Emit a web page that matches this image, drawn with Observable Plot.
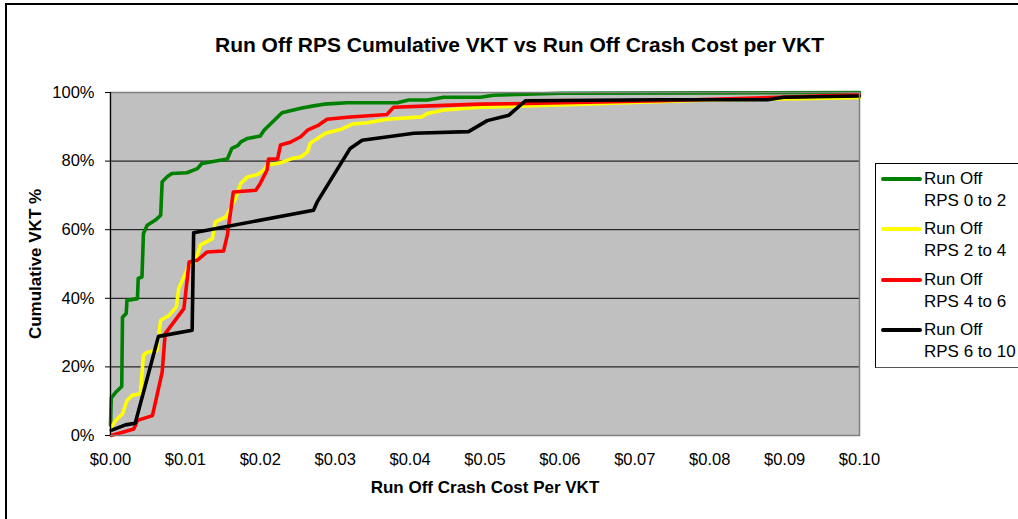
<!DOCTYPE html>
<html>
<head>
<meta charset="utf-8">
<script src="https://cdn.jsdelivr.net/npm/d3@7"></script>
<script src="https://cdn.jsdelivr.net/npm/@observablehq/plot@0.6"></script>
<style>
  html, body { margin: 0; padding: 0; background: #fff; overflow: hidden; }
  #wrap { position: relative; width: 1018px; height: 519px; overflow: hidden; font-family: "Liberation Sans", Arial, sans-serif; }
  #border { position: absolute; left: 5px; top: 3px; width: 1100px; height: 600px; border: 2px solid #000; box-sizing: border-box; }
  #chart { position: absolute; left: 0; top: 0; }
  #legend { position: absolute; left: 875px; top: 163px; width: 200px; height: 205px; border: 1px solid #000; border-bottom-color: #555; background: #fff; box-sizing: border-box; }
  .item { position: absolute; left: 0; font-size: 17px; line-height: 22px; color: #000; }
  .swatch { position: absolute; left: 5px; top: 9px; width: 41px; height: 4px; border-radius: 2px; }
  .txt { position: absolute; left: 48px; top: 0; white-space: nowrap; }
</style>
</head>
<body>
<div id="wrap">
  <div id="border"></div>
  <div id="chart"></div>
  <div id="legend"></div>
</div>
<script>
// Series names and colours
const seriesNames = ["Run Off RPS 0 to 2", "Run Off RPS 2 to 4", "Run Off RPS 4 to 6", "Run Off RPS 6 to 10"];
const legendLine1 = ["Run Off", "Run Off", "Run Off", "Run Off"];
const legendLine2 = ["RPS 0 to 2", "RPS 2 to 4", "RPS 4 to 6", "RPS 6 to 10"];
const seriesColors = ["#008000", "#FFFF00", "#FF0000", "#000000"];

// Axis ticks
const xTicks = [0, 0.01, 0.02, 0.03, 0.04, 0.05, 0.06, 0.07, 0.08, 0.09, 0.10];
const yTicks = [0, 20, 40, 60, 80, 100];

// RPS 0 to 2 (green)
const cost02 = [0.0000, 0.0001, 0.0007, 0.0015, 0.0016, 0.0021, 0.0022, 0.0036, 0.0037, 0.0042, 0.0044, 0.0049, 0.0060, 0.0067, 0.0069, 0.0076, 0.0082, 0.0102, 0.0116, 0.0122, 0.0156, 0.0162, 0.0170, 0.0174, 0.0183, 0.0200, 0.0205, 0.0229, 0.0254, 0.0271, 0.0285, 0.0316, 0.0383, 0.0398, 0.0423, 0.0445, 0.0494, 0.0511, 0.0601, 0.0800, 0.1000];
const pct02  = [3.0, 11.0, 12.6, 14.3, 34.5, 35.6, 39.4, 39.9, 45.8, 46.2, 58.9, 61.3, 62.8, 64.2, 74.0, 75.5, 76.4, 76.6, 77.8, 79.3, 80.6, 83.7, 84.5, 85.6, 86.6, 87.3, 89.0, 94.1, 95.4, 96.1, 96.6, 97.0, 97.0, 97.8, 97.8, 98.6, 98.6, 99.2, 99.8, 99.9, 100.0];

// RPS 2 to 4 (yellow)
const cost24 = [0.0001, 0.0007, 0.0016, 0.0022, 0.0029, 0.0040, 0.0044, 0.0049, 0.0062, 0.0067, 0.0078, 0.0088, 0.0091, 0.0096, 0.0105, 0.0113, 0.0120, 0.0136, 0.0140, 0.0154, 0.0167, 0.0174, 0.0183, 0.0196, 0.0205, 0.0209, 0.0227, 0.0243, 0.0254, 0.0263, 0.0267, 0.0287, 0.0307, 0.0323, 0.0343, 0.0369, 0.0416, 0.0423, 0.0445, 0.0494, 0.0601, 0.0658, 0.0800, 0.1000];
const pct24  = [2.4, 4.4, 6.3, 10.2, 11.7, 12.2, 23.4, 24.3, 24.8, 33.6, 35.0, 37.5, 42.8, 45.3, 49.6, 50.6, 55.5, 57.4, 62.3, 63.7, 69.1, 73.5, 75.4, 76.1, 77.4, 78.8, 79.5, 80.8, 81.2, 82.7, 85.3, 88.1, 89.2, 90.8, 91.2, 92.2, 92.9, 93.9, 94.9, 95.7, 96.4, 96.8, 97.8, 98.5];

// RPS 4 to 6 (red)
const cost46 = [0.0001, 0.0031, 0.0036, 0.0056, 0.0069, 0.0073, 0.0098, 0.0105, 0.0116, 0.0129, 0.0151, 0.0156, 0.0164, 0.0194, 0.0200, 0.0209, 0.0211, 0.0223, 0.0227, 0.0240, 0.0254, 0.0263, 0.0278, 0.0289, 0.0316, 0.0369, 0.0378, 0.0427, 0.0494, 0.0556, 0.0734, 0.1000];
const pct46  = [0.0, 1.9, 4.4, 5.8, 18.5, 29.7, 37.0, 50.6, 51.1, 53.5, 53.8, 58.4, 71.0, 71.5, 73.5, 77.4, 80.6, 80.6, 84.7, 85.5, 87.1, 89.0, 90.5, 92.2, 92.8, 93.6, 95.7, 96.1, 96.6, 96.8, 97.6, 99.3];

// RPS 6 to 10 (black)
const cost610 = [0.0001, 0.0020, 0.0033, 0.0064, 0.0109, 0.0111, 0.0271, 0.0276, 0.0320, 0.0336, 0.0405, 0.0478, 0.0503, 0.0532, 0.0554, 0.0734, 0.0877, 0.0899, 0.1000];
const pct610  = [1.5, 3.1, 3.6, 28.9, 30.7, 59.1, 65.7, 68.1, 83.7, 86.1, 88.1, 88.6, 91.8, 93.4, 97.6, 97.9, 97.9, 98.6, 99.0];

const costs = [cost02, cost24, cost46, cost610];
const pcts = [pct02, pct24, pct46, pct610];

const rows = [];
seriesNames.forEach((s, i) => {
  costs[i].forEach((c, j) => rows.push({series: s, cost: c, pct: pcts[i][j]}));
});

const lineMarks = seriesNames.map((s, i) =>
  Plot.line(rows.filter(r => r.series === s), {
    x: "cost", y: "pct", stroke: seriesColors[i], strokeWidth: 3.6,
    strokeLinejoin: "round", strokeLinecap: "round"
  })
);

const chart = Plot.plot({
  width: 1018,
  height: 519,
  marginLeft: 110,
  marginRight: 159,
  marginTop: 92,
  marginBottom: 84,
  style: {background: "transparent", fontFamily: "'Liberation Sans', Arial, sans-serif", fontSize: "16.5px", color: "#000"},
  x: {domain: [0, 0.1]},
  y: {domain: [0, 100]},
  marks: [
    Plot.frame({fill: "#C0C0C0", stroke: null}),
    Plot.ruleY(yTicks.filter(d => d > 0 && d < 100), {stroke: "#000", strokeWidth: 1}),
    ...lineMarks,
    Plot.frame({stroke: "#808080", strokeWidth: 1.5}),
    Plot.ruleX([0], {stroke: "#000", strokeWidth: 1.2}),
    Plot.axisX(xTicks, {tickSize: 0, tickPadding: 18, tickFormat: d => "$" + d.toFixed(2), label: null, fontSize: 16.5}),
    Plot.axisY(yTicks, {tickSize: 5, tickPadding: 11, tickFormat: d => d + "%", label: null, fontSize: 16.5, stroke: "#000"}),
    Plot.text(["Run Off Crash Cost Per VKT"], {frameAnchor: "bottom", dy: 57, fontWeight: "bold", fontSize: 17}),
    Plot.text(["Cumulative VKT %"], {frameAnchor: "left", textAnchor: "middle", dx: -75, rotate: -90, fontWeight: "bold", fontSize: 17}),
    Plot.text(["Run Off RPS Cumulative VKT vs Run Off Crash Cost per VKT"], {frameAnchor: "top", dx: 34.5, dy: -55, fontWeight: "bold", fontSize: 21})
  ]
});
document.getElementById("chart").appendChild(chart);

// Legend
const legend = document.getElementById("legend");
seriesNames.forEach((s, i) => {
  const it = document.createElement("div");
  it.className = "item";
  it.style.top = (4 + i * 50.3) + "px";
  it.innerHTML = `<div class="swatch" style="background:${seriesColors[i]}"></div><div class="txt">${legendLine1[i]}<br>${legendLine2[i]}</div>`;
  legend.appendChild(it);
});
</script>
</body>
</html>
